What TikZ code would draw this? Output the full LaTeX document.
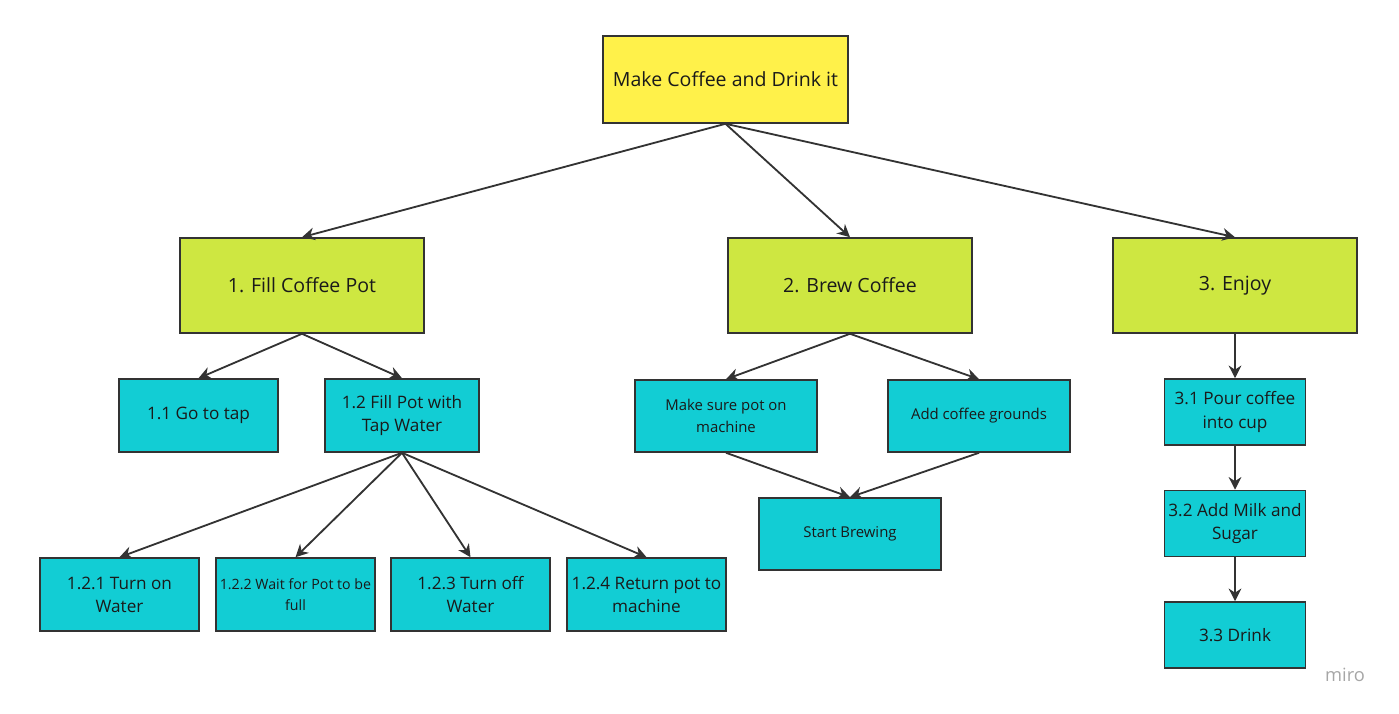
\documentclass[tikz,border=0pt]{standalone}
\usepackage{fontspec}
\setmainfont{Open Sans}
\usetikzlibrary{arrows.meta, positioning}
\definecolor{rootyellow}{RGB}{255, 241, 74}
\definecolor{stagelime}{RGB}{206, 231, 65}
\definecolor{taskcyan}{RGB}{18, 205, 212}
\definecolor{edgegray}{RGB}{51, 51, 51}
\definecolor{inkdark}{RGB}{26, 26, 26}

\tikzset{
  box/.style={draw=edgegray, line width=1.1pt, align=center, inner sep=2pt, text=inkdark},
  rootbox/.style={box, fill=rootyellow, minimum width=6.125cm, minimum height=2.175cm, font=\fontsize{13.9}{16}\selectfont},
  stagebox/.style={box, fill=stagelime, minimum width=6.1cm, minimum height=2.375cm, font=\fontsize{13.9}{16}\selectfont},
  taskbox/.style={box, fill=taskcyan, minimum width=3.975cm, minimum height=1.825cm, font=\fontsize{12.2}{16.5}\selectfont},
  link/.style={draw=edgegray, line width=1.3pt, -{Stealth[length=9pt, width=9pt]}}
}

\begin{document}
\begin{tikzpicture}[x=0.025cm, y=-0.025cm]
  \useasboundingbox (0, 0) rectangle (1399, 714);

  % Root
  \node[rootbox] (root) at (725.5, 79.5) {Make Coffee and Drink it};

  % Stages
  \node[stagebox] (fill) at (302, 285.5) {1. Fill Coffee Pot};
  \node[stagebox] (brew) at (850, 285.5) {2. Brew Coffee};
  \node[stagebox] (enjoy) at (1235, 285.5) {3. Enjoy};

  % Fill coffee pot
  \node[taskbox] (tap) at (198.5, 415.5) {1.1 Go to tap};
  \node[taskbox, minimum width=3.85cm] (fillpot) at (402, 415.5) {1.2 Fill Pot with\\Tap Water};
  \node[taskbox] (turnon) at (119.5, 594.5) {1.2.1 Turn on\\Water};
  \node[taskbox, font=\fontsize{10.1}{15}\selectfont] (wait) at (295.5, 594.5) {1.2.2 Wait for Pot to be\\full};
  \node[taskbox] (turnoff) at (470.5, 594.5) {1.2.3 Turn off\\Water};
  \node[taskbox] (return) at (646.5, 594.5) {1.2.4 Return pot to\\machine};

  % Brew coffee
  \node[taskbox, minimum width=4.55cm, minimum height=1.8cm, font=\fontsize{10.6}{16}\selectfont] (potcheck) at (726, 416) {Make sure pot on\\machine};
  \node[taskbox, minimum width=4.55cm, minimum height=1.8cm, font=\fontsize{10.6}{16}\selectfont] (grounds) at (979, 416) {Add coffee grounds};
  \node[taskbox, minimum width=4.55cm, minimum height=1.8cm, font=\fontsize{10.6}{16}\selectfont] (start) at (850, 534) {Start Brewing};

  % Enjoy
  \node[taskbox, minimum width=3.525cm, minimum height=1.65cm] (pour) at (1235, 412) {3.1 Pour coffee\\into cup};
  \node[taskbox, minimum width=3.525cm, minimum height=1.65cm] (milk) at (1235, 523.5) {3.2 Add Milk and\\Sugar};
  \node[taskbox, minimum width=3.525cm, minimum height=1.65cm] (drink) at (1235, 635) {3.3 Drink};

  % Links
  \draw[link] (root.south) -- (fill.north);
  \draw[link] (root.south) -- (brew.north);
  \draw[link] (root.south) -- (enjoy.north);
  \draw[link] (fill.south) -- (tap.north);
  \draw[link] (fill.south) -- (fillpot.north);
  \foreach \kid in {turnon, wait, turnoff, return}
    \draw[link] (fillpot.south) -- (\kid.north);
  \draw[link] (brew.south) -- (potcheck.north);
  \draw[link] (brew.south) -- (grounds.north);
  \draw[link] (potcheck.south) -- (start.north);
  \draw[link] (grounds.south) -- (start.north);
  \draw[link] (enjoy.south) -- (pour.north);
  \draw[link] (pour.south) -- (milk.north);
  \draw[link] (milk.south) -- (drink.north);

  % Watermark
  \node[font=\fontsize{13}{15}\selectfont, text=black!35] (miro) at (1345, 675) {miro};
\end{tikzpicture}
\end{document}
